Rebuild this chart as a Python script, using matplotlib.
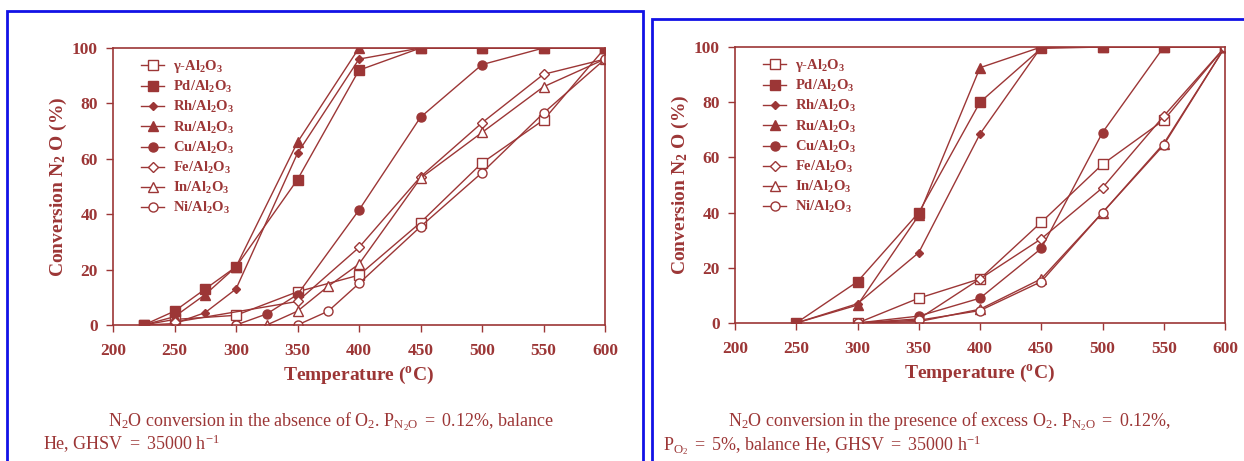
import matplotlib
matplotlib.use("Agg")
import matplotlib.pyplot as plt
from matplotlib.patches import Rectangle

plt.rcParams['font.family'] = ['Liberation Serif', 'DejaVu Serif']
plt.rcParams['mathtext.fontset'] = 'custom'
plt.rcParams['mathtext.rm'] = 'Liberation Serif'
plt.rcParams['mathtext.it'] = 'Liberation Serif:italic'
plt.rcParams['mathtext.bf'] = 'Liberation Serif:bold'

RED = '#9c3636'
BLUE = '#1212e6'

# ---- data: N2O conversion (%) vs temperature (°C) ----
sub = r'Al$_{\mathbf{2}}$O$_{\mathbf{3}}$'
labels = ['γ-' + sub, 'Pd/' + sub, 'Rh/' + sub, 'Ru/' + sub,
          'Cu/' + sub, 'Fe/' + sub, 'In/' + sub, 'Ni/' + sub]

# without O2
a_gamma_T = [225, 250, 300, 350, 400, 450, 500, 550, 600]
a_gamma_C = [0, 2, 3.5, 12, 18, 37, 58.5, 74, 100]
a_pd_T = [225, 250, 275, 300, 350, 400, 450, 500, 550, 600]
a_pd_C = [0, 5, 13, 21, 52.5, 92, 100, 100, 100, 100]
a_rh_T = [225, 250, 275, 300, 350, 400, 450, 500, 550, 600]
a_rh_C = [0, 0.5, 4.5, 13, 62, 96, 100, 100, 100, 100]
a_ru_T = [225, 250, 275, 300, 350, 400, 450, 500, 550, 600]
a_ru_C = [0, 3, 11, 21, 66, 100, 100, 100, 100, 100]
a_cu_T = [300, 325, 350, 400, 450, 500, 550, 600]
a_cu_C = [0, 4, 11, 41.5, 75, 94, 100, 100]
a_fe_T = [250, 350, 400, 450, 500, 550, 600]
a_fe_C = [1, 8.5, 28, 53.5, 73, 90.5, 96]
a_in_T = [325, 350, 375, 400, 450, 500, 550, 600]
a_in_C = [0, 5, 14, 22, 53, 69.5, 86, 96]
a_ni_T = [300, 350, 375, 400, 450, 500, 550, 600]
a_ni_C = [0, 0, 5, 15, 35.5, 55, 76.5, 96]

# with excess O2
b_gamma_T = [300, 350, 400, 450, 500, 550, 600]
b_gamma_C = [0, 9, 16, 36.5, 57.5, 73.5, 100]
b_pd_T = [250, 300, 350, 400, 450, 500, 550, 600]
b_pd_C = [0, 15, 40, 80, 99.5, 100, 100, 100]
b_rh_T = [250, 300, 350, 400, 450, 500, 550, 600]
b_rh_C = [0, 7, 25.5, 68.5, 100, 100, 100, 100]
b_ru_T = [250, 300, 350, 400, 450, 500, 550, 600]
b_ru_C = [0, 6.5, 39, 92.5, 100, 100, 100, 100]
b_cu_T = [300, 350, 400, 450, 500, 550, 600]
b_cu_C = [0, 2.5, 9, 27, 69, 100, 100]
b_fe_T = [300, 350, 400, 450, 500, 550, 600]
b_fe_C = [0, 1.5, 16, 30.5, 49, 75, 100]
b_in_T = [300, 350, 400, 450, 500, 550, 600]
b_in_C = [0, 0.5, 5, 16, 40, 65, 100]
b_ni_T = [300, 350, 400, 450, 500, 550, 600]
b_ni_C = [0, 1, 4.5, 15, 40, 64.5, 100]

x_ticks = [200, 250, 300, 350, 400, 450, 500, 550, 600]
y_ticks = [0, 20, 40, 60, 80, 100]

# marker styles per catalyst: (marker, size, filled)
styles = [('s', 7, False), ('s', 7.5, True), ('D', 4.5, True), ('^', 6.5, True),
          ('o', 6.5, True), ('D', 5, False), ('^', 6.5, False), ('o', 6.5, False)]

W, H = 1244, 461
fig = plt.figure(figsize=(W / 100, H / 100), dpi=100)


def px_axes(left, top, right, bottom):
    return fig.add_axes([left / W, 1 - bottom / H, (right - left) / W, (bottom - top) / H])


def draw_panel(ax, series, leg_top):
    handles = []
    for (T, C), lab, (m, ms, filled) in zip(series, labels, styles):
        h, = ax.plot(T, C, color=RED, lw=1.0, marker=m, ms=ms,
                     mfc=RED if filled else 'white', mec=RED, mew=1.0, label=lab)
        handles.append(h)
    ax.set_xlim(200, 600)
    ax.set_ylim(0, 100)
    ax.set_xticks(x_ticks)
    ax.set_yticks(y_ticks)
    for s in ax.spines.values():
        s.set_color(RED)
        s.set_linewidth(1.2)
    ax.tick_params(axis='both', colors=RED, direction='out', length=5, width=1.0,
                   labelsize=12.5)
    ax.tick_params(axis='x', pad=8)
    ax.tick_params(axis='y', pad=6)
    for t in ax.get_xticklabels() + ax.get_yticklabels():
        t.set_fontweight('bold')
        t.set_color(RED)
    ax.set_xlabel(r'Temperature ($^{\mathbf{o}}$C)', color=RED, fontsize=14,
                  fontweight='bold', labelpad=4)
    ax.set_ylabel(r'Conversion N$_{\mathbf{2}}$ O (%)', color=RED, fontsize=14,
                  fontweight='bold', labelpad=2)
    leg = ax.legend(handles=handles, loc='upper left', bbox_to_anchor=(0.045, leg_top),
                    frameon=False, handlelength=1.6, handletextpad=0.6,
                    labelspacing=0.28, borderaxespad=0,
                    prop={'weight': 'bold', 'size': 10.5})
    for t in leg.get_texts():
        t.set_color(RED)


ax1 = px_axes(113, 48, 605, 325)
draw_panel(ax1, [(a_gamma_T, a_gamma_C), (a_pd_T, a_pd_C), (a_rh_T, a_rh_C),
                 (a_ru_T, a_ru_C), (a_cu_T, a_cu_C), (a_fe_T, a_fe_C),
                 (a_in_T, a_in_C), (a_ni_T, a_ni_C)], 0.985)

ax2 = px_axes(735, 47, 1225, 323)
draw_panel(ax2, [(b_gamma_T, b_gamma_C), (b_pd_T, b_pd_C), (b_rh_T, b_rh_C),
                 (b_ru_T, b_ru_C), (b_cu_T, b_cu_C), (b_fe_T, b_fe_C),
                 (b_in_T, b_in_C), (b_ni_T, b_ni_C)], 0.985)

# blue frames around each figure panel
fig.patches.append(Rectangle((7 / W, -0.05), (643 - 7) / W, 1.05 - 11 / H,
                             transform=fig.transFigure, fill=False,
                             edgecolor=BLUE, lw=2))
fig.patches.append(Rectangle((652 / W, -0.05), 0.6, 1.05 - 19 / H,
                             transform=fig.transFigure, fill=False,
                             edgecolor=BLUE, lw=2))

# captions
cap_kw = dict(color=RED, fontsize=13, va='baseline', ha='left')
fig.text(108 / W, 1 - 426 / H,
         r'N$_2$O conversion in the absence of O$_2$. P$_{\mathrm{N_2O}}$ $=$ 0.12%, balance',
         **cap_kw)
fig.text(43 / W, 1 - 450 / H, r'He, GHSV $=$ 35000 h$^{-1}$', **cap_kw)
fig.text(728 / W, 1 - 426 / H,
         r'N$_2$O conversion in the presence of excess O$_2$. P$_{\mathrm{N_2O}}$ $=$ 0.12%,',
         **cap_kw)
fig.text(663 / W, 1 - 450 / H,
         r'P$_{\mathrm{O_2}}$ $=$ 5%, balance He, GHSV $=$ 35000 h$^{-1}$', **cap_kw)

fig.savefig('out.png', dpi=100)
